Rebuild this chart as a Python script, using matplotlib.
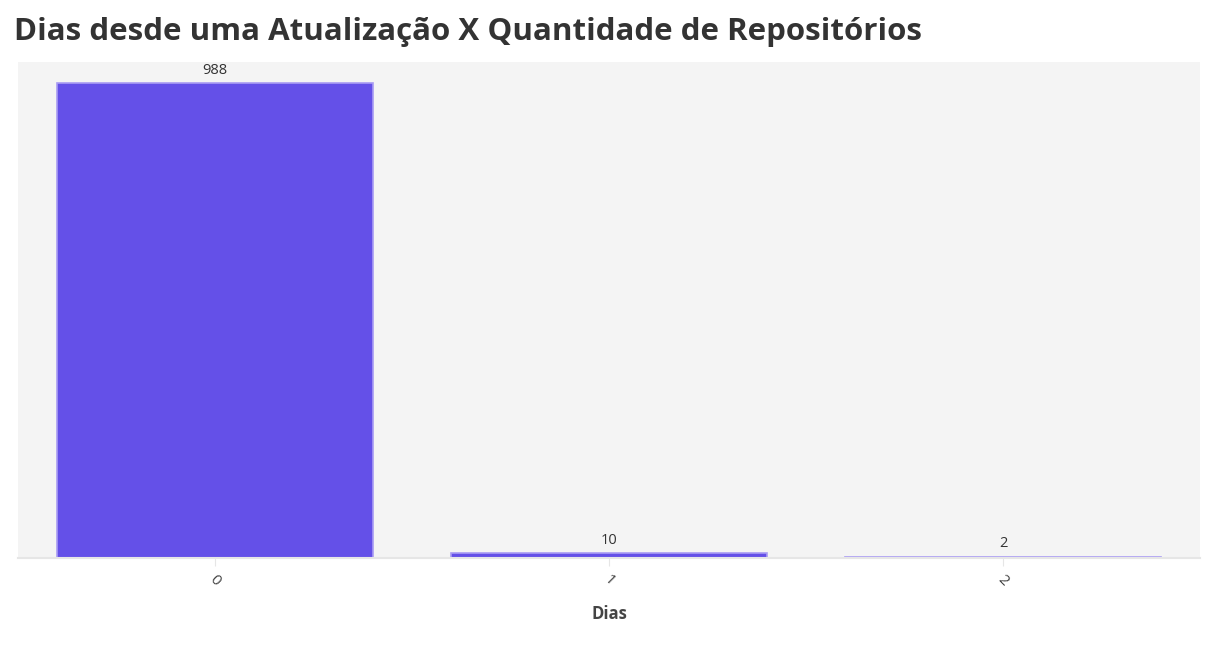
import matplotlib.pyplot as plt

# dados
dias = ['0', '1', '2']
quantidade = [988, 10, 2]

plt.rcParams['font.family'] = ['Open Sans', 'DejaVu Sans']

fig = plt.figure(figsize=(12.26, 6.5), dpi=100)
ax = fig.add_axes([18 / 1226, 1 - 558 / 650, 1182 / 1226, 496 / 650])
ax.set_facecolor('#f4f4f4')

x = list(range(len(dias)))
bars = ax.bar(x, quantidade, width=0.8, color='#6450e8', edgecolor='#a99cf3', linewidth=1.2)
for xi, v in zip(x, quantidade):
    ax.annotate(str(v), (xi, v), xytext=(0, 4), textcoords='offset points',
                ha='center', va='bottom', fontsize=10.5, color='#333333')

ax.set_xlim(-0.5, 2.5)
ax.set_ylim(0, 1032)
ax.set_xticks(x)
ax.set_xticklabels(dias, rotation=-45, fontsize=11, color='#444444')
ax.tick_params(axis='x', length=6, color='#e6e6e6', pad=4)
ax.set_yticks([])
for s in ['top', 'right', 'left']:
    ax.spines[s].set_visible(False)
ax.spines['bottom'].set_color('#e6e6e6')
ax.spines['bottom'].set_linewidth(1.5)

ax.set_xlabel('Dias', fontsize=12, fontweight='bold', color='#444444', labelpad=12)
fig.text(14 / 1226, 1 - 32 / 650, 'Dias desde uma Atualização X Quantidade de Repositórios',
         fontsize=22.5, fontweight='bold', color='#333333', va='center', ha='left')

fig.savefig('out.png', dpi=100)
